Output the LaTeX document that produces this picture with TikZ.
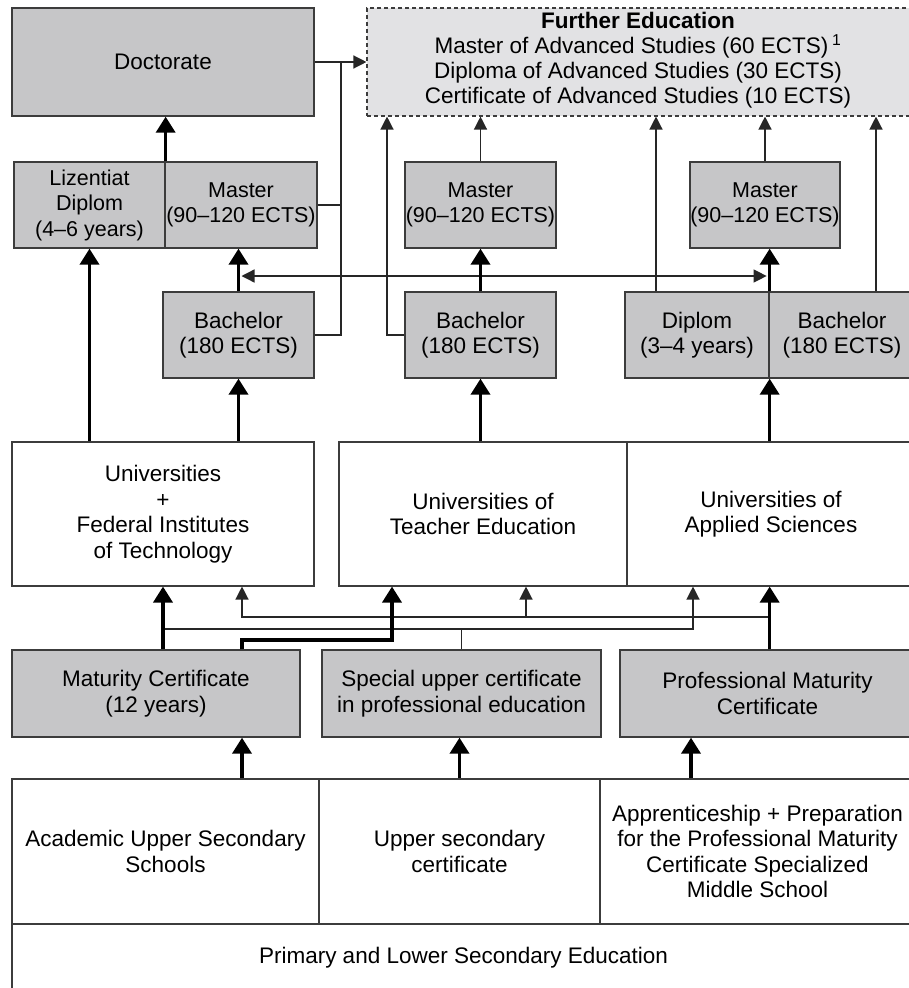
\documentclass[tikz,border=0pt]{standalone}
\usepackage{fontspec}
\setmainfont{Liberation Sans}
\usetikzlibrary{arrows.meta,calc}
\definecolor{boxgray}{RGB}{198,198,200}
\definecolor{felight}{RGB}{226,226,228}
\definecolor{edgecol}{RGB}{60,60,60}
\begin{document}
\begin{tikzpicture}[x=1pt,y=-1pt,
  every node/.style={font=\fontsize{22.5}{25.5}\selectfont, align=center, inner sep=0pt},
  mfont/.style={font=\fontsize{21.5}{25.5}\selectfont},
  gbox/.style={draw=edgecol, line width=1.3pt, fill=boxgray},
  wbox/.style={draw=edgecol, line width=1.1pt, fill=white},
  febox/.style={draw=edgecol, line width=1.1pt, fill=felight, dash pattern=on 4pt off 3pt},
  thinline/.style={draw=black!85, line width=1.3pt},
  thinarrow/.style={thinline, -{Triangle[width=13pt,length=13pt]}},
  thickarrow/.style={draw=black, line width=3.6pt, -{Triangle[width=19pt,length=16pt]}}]
\useasboundingbox (0,0) rectangle (909,988);
\fill[white] (0,0) rectangle (909,988);

% top row
\node[gbox, minimum width=302, minimum height=108] (doc) at (163,62) {Doctorate};
\node[febox, minimum width=548, minimum height=108] (fe) at (641,62) {};
\node[font=\fontsize{22.5}{25}\selectfont] (fet) at (638,60) {\textbf{Further Education}\\Master of Advanced Studies (60 ECTS)\,\textsuperscript{1}\\Diploma of Advanced Studies (30 ECTS)\\Certificate of Advanced Studies (10 ECTS)};

% master row
\node[gbox, mfont, minimum width=151, minimum height=86] (liz) at (89.5,205) {Lizentiat\\Diplom\\(4–6 years)};
\node[gbox, mfont, minimum width=152, minimum height=86] (m1) at (241,205) {Master\\(90–120 ECTS)};
\node[gbox, mfont, minimum width=151, minimum height=86] (m2) at (480.5,205) {Master\\(90–120 ECTS)};
\node[gbox, mfont, minimum width=150, minimum height=86] (m3) at (765,205) {Master\\(90–120 ECTS)};

% bachelor row
\node[gbox, minimum width=151, minimum height=86] (b1) at (238.5,335) {Bachelor\\(180 ECTS)};
\node[gbox, minimum width=151, minimum height=86] (b2) at (480.5,335) {Bachelor\\(180 ECTS)};
\node[gbox, minimum width=146, minimum height=86] (b3) at (842,335) {Bachelor\\(180 ECTS)};
\node[gbox, minimum width=144, minimum height=86] (dip) at (697,335) {Diplom\\(3–4 years)};

% universities row
\node[wbox, minimum width=302, minimum height=144] (u1) at (163,514) {Universities\\+\\Federal Institutes\\of Technology};
\node[wbox, minimum width=288, minimum height=144] (u2) at (483,514) {Universities of\\Teacher Education};
\node[wbox, minimum width=288, minimum height=144] (u3) at (771,514) {Universities of\\Applied Sciences};

% certificates row
\node[gbox, minimum width=288, minimum height=87] (mc) at (156,693.5) {Maturity Certificate\\(12 years)};
\node[gbox, minimum width=279, minimum height=87] (sc) at (461.5,693.5) {Special upper certificate\\in professional education};
\node[gbox, minimum width=295, minimum height=87] (pm) at (767.5,693.5) {Professional Maturity\\Certificate};

% secondary row
\node[wbox, minimum width=307, minimum height=145] (as) at (165.5,851.5) {Academic Upper Secondary\\Schools};
\node[wbox, minimum width=281, minimum height=145] (us) at (459.5,851.5) {Upper secondary\\certificate};
\node[wbox, minimum width=315, minimum height=145] (ap) at (757.5,851.5) {Apprenticeship + Preparation\\for the Professional Maturity\\Certificate Specialized\\Middle School};
\node[wbox, minimum width=903, minimum height=68] (pr) at (463.5,958) {Primary and Lower Secondary Education};

% helper coordinates
\coordinate (v1) at (341,62);
\coordinate (c387) at (387,0);
\coordinate (c656) at (656,0);
\coordinate (c876) at (876,0);
\coordinate (y276) at (0,276);
\coordinate (j1) at (392,640);
\coordinate (c242) at (242,0);
\coordinate (y617) at (0,617);
\coordinate (y629) at (0,629);
\coordinate (c526) at (526,0);
\coordinate (c693) at (693,0);
\coordinate (c691) at (691,0);

% thin connectors (upper part)
\draw[thinarrow] (doc.east) -- (fe.west |- doc.east);
\draw[thinline] (m1.east) -| (v1);
\draw[thinline] (b1.east) -| (v1);
\draw[thinarrow] (b2.west) -| (c387 |- fe.south);
\draw[thinarrow] (m2.north) -- (m2.north |- fe.south);
\draw[thinarrow] (m3.north) -- (m3.north |- fe.south);
\draw[thinarrow] (c656 |- dip.north) -- (c656 |- fe.south);
\draw[thinarrow] (c876 |- b3.north) -- (c876 |- fe.south);
\draw[thinline, {Triangle[width=13pt,length=13pt]}-{Triangle[width=13pt,length=13pt]}, shorten <=3pt, shorten >=3pt] (b1.north |- y276) -- (dip.north east |- y276);

% thick connectors (upper part)
\draw[thickarrow] (liz.north east) -- (liz.north east |- doc.south);
\draw[thickarrow] (u1.north -| liz.south) -- (liz.south);
\draw[thickarrow] (u1.north -| b1.south) -- (b1.south);
\draw[thickarrow] (b1.north) -- (b1.north |- m1.south);
\draw[thickarrow] (u2.north -| b2.south) -- (b2.south);
\draw[thickarrow] (b2.north) -- (b2.north |- m2.south);
\draw[thickarrow] (u3.north -| dip.south east) -- (dip.south east);
\draw[thickarrow] (dip.north east) -- (dip.north east |- m3.south);

% connectors between certificates and universities
\draw[thinarrow] (dip.south east |- y617) -| (c242 |- u1.south);
\draw[thinarrow] (c526 |- y617) -- (c526 |- u2.south);
\draw[thinarrow] (u1.south |- y629) -| (c693 |- u3.south);
\draw[thinline] (sc.north) -- (sc.north |- y629);
\draw[thickarrow] (mc.north -| u1.south) -- (u1.south);
\draw[thickarrow] (mc.north -| c242) |- (j1) -- (j1 |- u2.south);
\draw[thickarrow] (pm.north -| dip.south east) -- (u3.south -| dip.south east);

% secondary to certificates
\draw[thickarrow] (as.north -| c242) -- (mc.south -| c242);
\draw[thickarrow] (us.north) -- (us.north |- sc.south);
\draw[thickarrow] (ap.north -| c691) -- (pm.south -| c691);
\end{tikzpicture}
\end{document}
